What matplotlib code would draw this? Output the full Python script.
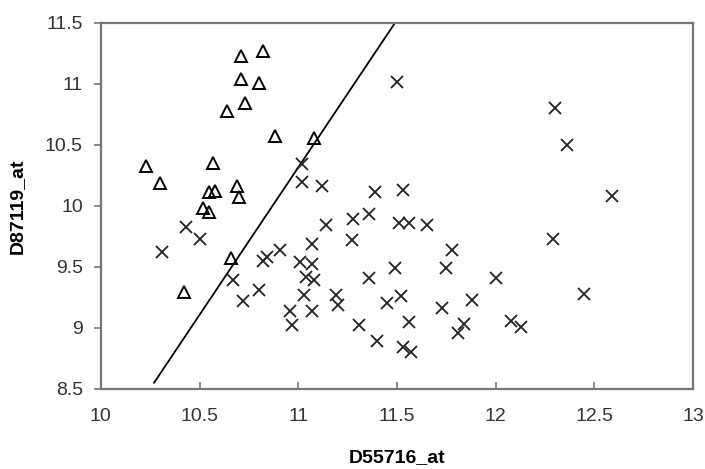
import matplotlib
matplotlib.use("Agg")
import matplotlib.pyplot as plt

plt.rcParams['font.family'] = ['Liberation Sans', 'DejaVu Sans']

# class 1 samples (triangles)
tri_x = [10.23, 10.30, 10.42, 10.52, 10.55, 10.55, 10.57, 10.58, 10.64, 10.66,
         10.69, 10.70, 10.71, 10.71, 10.73, 10.80, 10.82, 10.88, 11.08]
tri_y = [10.33, 10.19, 9.29, 9.98, 9.95, 10.11, 10.35, 10.12, 10.78, 9.57,
         10.16, 10.07, 11.23, 11.04, 10.84, 11.01, 11.27, 10.57, 10.56]

# class 2 samples (crosses)
cross_x = [10.31, 10.43, 10.50, 10.67, 10.72, 10.80, 10.82, 10.84, 10.91, 10.96,
           10.97, 11.01, 11.02, 11.02, 11.03, 11.04, 11.07, 11.07, 11.08, 11.07,
           11.12, 11.14, 11.19, 11.20, 11.27, 11.28, 11.31, 11.36, 11.36, 11.39,
           11.40, 11.45, 11.49, 11.50, 11.51, 11.52, 11.53, 11.53, 11.56, 11.56,
           11.57, 11.65, 11.73, 11.75, 11.78, 11.81, 11.84, 11.88, 12.00, 12.08,
           12.13, 12.29, 12.30, 12.36, 12.45, 12.59]
cross_y = [9.62, 9.83, 9.73, 9.39, 9.22, 9.31, 9.55, 9.58, 9.64, 9.14,
           9.02, 9.54, 10.34, 10.20, 9.27, 9.42, 9.52, 9.69, 9.39, 9.14,
           10.16, 9.84, 9.27, 9.19, 9.72, 9.89, 9.02, 9.93, 9.41, 10.11,
           8.89, 9.20, 9.49, 11.02, 9.86, 9.26, 10.13, 8.84, 9.86, 9.05,
           8.80, 9.84, 9.16, 9.49, 9.64, 8.96, 9.03, 9.23, 9.41, 9.06,
           9.01, 9.73, 10.80, 10.50, 9.28, 10.08]

# separating line
line_x = [10.27, 11.49]
line_y = [8.55, 11.50]

xticks = [10, 10.5, 11, 11.5, 12, 12.5, 13]
xtick_labels = ['10', '10.5', '11', '11.5', '12', '12.5', '13']
yticks = [8.5, 9, 9.5, 10, 10.5, 11, 11.5]
ytick_labels = ['8.5', '9', '9.5', '10', '10.5', '11', '11.5']

fig = plt.figure(figsize=(7.05, 4.69), dpi=100)
ax = fig.add_axes([0.143, 0.171, 0.840, 0.780])

ax.plot(line_x, line_y, color='black', lw=1.3)
ax.plot(tri_x, tri_y, linestyle='none', marker='^', markersize=8,
        markerfacecolor='none', markeredgecolor='black', markeredgewidth=1.4)
ax.plot(cross_x, cross_y, linestyle='none', marker='x', markersize=9,
        color='#222222', markeredgewidth=1.3)

ax.set_xlim(10, 13)
ax.set_ylim(8.5, 11.5)
ax.set_xticks(xticks)
ax.set_xticklabels(xtick_labels)
ax.set_yticks(yticks)
ax.set_yticklabels(ytick_labels)

for s in ax.spines.values():
    s.set_color('#777777')
    s.set_linewidth(1.6)

ax.tick_params(axis='x', direction='in', length=5, width=1.2, color='#777777',
               pad=14, labelsize=14, labelcolor='#333333')
ax.tick_params(axis='y', direction='out', length=5, width=1.2, color='#777777',
               pad=8, labelsize=14, labelcolor='#333333')

ax.set_xlabel('D55716_at', fontsize=14, fontweight='bold')
ax.set_ylabel('D87119_at', fontsize=14, fontweight='bold')
ax.xaxis.set_label_coords(0.5, -0.165)
ax.yaxis.set_label_coords(-0.126, 0.5)

fig.savefig('out.png', dpi=100)
